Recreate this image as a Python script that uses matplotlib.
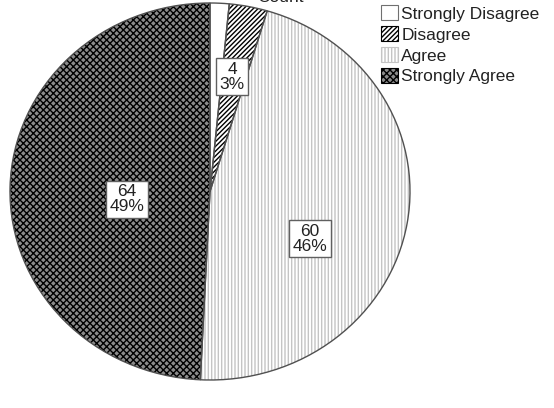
import numpy as np
import matplotlib.pyplot as plt
from matplotlib.patches import Patch

plt.rcParams['font.family'] = ['Liberation Sans', 'DejaVu Sans']
plt.rcParams['hatch.linewidth'] = 1.0

categories = ['Strongly Disagree', 'Disagree', 'Agree', 'Strongly Agree']
counts = [2, 4, 60, 64]
faces = ['white', 'white', 'white', '#8c8c8c']
hatch_cols = ['white', 'black', '#c4c4c4', 'black']
hatches = [None, '///////', '|||||', 'xxxxx']

# where the count/percent boxes sit (data units, pie radius = 1); None = no box
label_pos = [None, (0.11, 0.61), (0.50, -0.25), (-0.415, -0.04)]

total = sum(counts)
pcts = [round(c / total * 100) for c in counts]

fig = plt.figure(figsize=(5.54, 4.08), dpi=100)
ax = fig.add_axes([10 / 554, 28 / 408, 400 / 554, 377 / 408])

# filled wedges, hatch colour comes from the edge colour
wedges, _ = ax.pie(counts, startangle=90, counterclock=False, radius=1,
                   colors=faces, wedgeprops=dict(linewidth=0))
for w, h, hc in zip(wedges, hatches, hatch_cols):
    w.set_edgecolor(hc)
    if h:
        w.set_hatch(h)

# outlines on top
outl, _ = ax.pie(counts, startangle=90, counterclock=False, radius=1,
                 colors=['none'] * 4,
                 wedgeprops=dict(linewidth=1.0, edgecolor='#505050', fill=False))

ax.set_aspect('auto')
ax.set_xlim(-1.0, 1.0)
ax.set_ylim(-1.0, 1.0)

for pos, c, p in zip(label_pos, counts, pcts):
    if pos is None:
        continue
    ax.text(pos[0], pos[1], f'{c}\n{p}%', ha='center', va='center',
            fontsize=12.5, color='#222222', linespacing=1.0,
            bbox=dict(boxstyle='square,pad=0.2', fc='white', ec='#606060', lw=1))

handles = []
for f, h, hc in zip(faces, hatches, hatch_cols):
    handles.append(Patch(facecolor=f, edgecolor=hc if h else '#707070',
                         hatch=h, linewidth=0.8))
leg = fig.legend(handles, categories, loc='upper left',
                 bbox_to_anchor=(378 / 554, 1.0 - 2 / 408), frameon=False,
                 fontsize=12.5, handlelength=0.95, handleheight=0.95,
                 handletextpad=0.2, labelspacing=0.25, borderaxespad=0,
                 borderpad=0.2)
for t in leg.get_texts():
    t.set_color('#222222')

# axis title, mostly above the top edge
fig.text(280 / 554, 1.0 + 3 / 408, 'Count', ha='center', va='center',
         fontsize=12.5, color='#222222')

fig.savefig('out.png', dpi=100)
